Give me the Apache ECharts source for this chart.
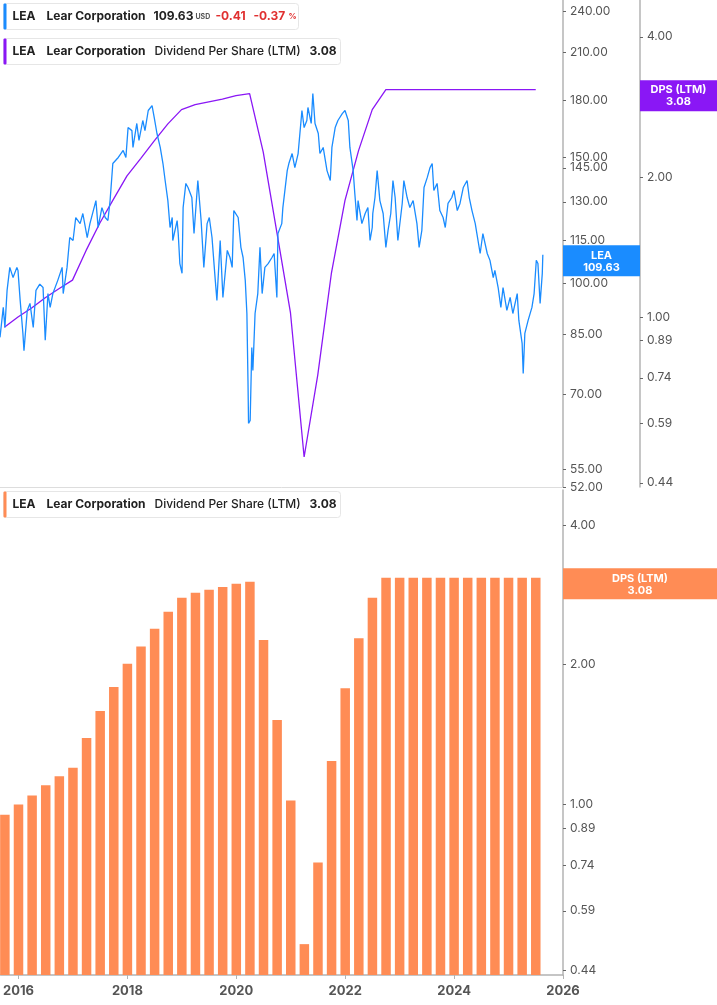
<!DOCTYPE html>
<html>
<head>
<meta charset="utf-8">
<script src="https://cdn.jsdelivr.net/npm/echarts@6/dist/echarts.min.js"></script>
<style>
  html, body { margin: 0; padding: 0; background: #fff; }
  #chart { width: 717px; height: 1005px; }
</style>
</head>
<body>
<div id="chart"></div>
<script>
// LEA daily-ish close: [decimal year, price]
let priceData = [
  [2015.67, 84.1], [2015.73, 92.6], [2015.76, 86.8], [2015.80, 97.8], [2015.85, 105.3], [2015.91, 101.9],
  [2015.98, 105.3], [2016.00, 104.3], [2016.04, 94.7], [2016.09, 85.2], [2016.11, 80.6], [2016.17, 91.7],
  [2016.22, 93.8], [2016.28, 86.8], [2016.33, 97.8], [2016.40, 99.8], [2016.46, 98.7], [2016.50, 83.3],
  [2016.55, 96.8], [2016.59, 92.6], [2016.64, 96.8], [2016.73, 101.0], [2016.81, 105.3], [2016.83, 96.8],
  [2016.90, 105.3], [2016.95, 115.9], [2017.01, 114.8], [2017.06, 123.6], [2017.14, 121.2], [2017.19, 125.2],
  [2017.27, 115.9], [2017.32, 121.2], [2017.43, 130.5], [2017.47, 119.7], [2017.54, 127.6], [2017.60, 123.6],
  [2017.65, 122.4], [2017.69, 130.5], [2017.74, 147.0], [2017.84, 149.9], [2017.93, 153.3], [2017.98, 149.9],
  [2018.02, 165.0], [2018.09, 163.4], [2018.11, 154.8], [2018.18, 167.2], [2018.22, 158.3], [2018.29, 168.8],
  [2018.33, 163.4], [2018.39, 174.3], [2018.46, 177.1], [2018.50, 170.4], [2018.55, 161.9], [2018.61, 154.8],
  [2018.66, 147.0], [2018.70, 139.2], [2018.75, 130.5], [2018.79, 119.7], [2018.83, 123.6], [2018.84, 114.8],
  [2018.92, 122.4], [2018.94, 117.4], [2018.97, 106.6], [2019.01, 103.3], [2019.03, 127.6], [2019.08, 137.9],
  [2019.12, 136.1], [2019.19, 131.8], [2019.23, 117.4], [2019.30, 139.2], [2019.36, 122.4], [2019.41, 105.3],
  [2019.47, 121.2], [2019.51, 123.6], [2019.56, 115.9], [2019.62, 101.0], [2019.65, 94.7], [2019.71, 114.8],
  [2019.76, 95.6], [2019.84, 111.2], [2019.89, 108.7], [2019.93, 105.3], [2019.96, 126.4], [2020.04, 123.6],
  [2020.09, 112.3], [2020.13, 108.7], [2020.17, 101.0], [2020.20, 90.8], [2020.22, 73.2], [2020.23, 63.8],
  [2020.26, 64.4], [2020.29, 81.4], [2020.31, 75.6], [2020.35, 90.8], [2020.40, 96.8], [2020.44, 112.3],
  [2020.48, 96.8], [2020.53, 105.3], [2020.59, 106.6], [2020.66, 108.7], [2020.70, 110.1], [2020.75, 95.6],
  [2020.77, 117.4], [2020.84, 121.2], [2020.86, 127.6], [2020.94, 143.7], [2020.97, 147.0], [2021.03, 151.8],
  [2021.08, 145.1], [2021.14, 151.8], [2021.21, 174.3], [2021.25, 165.0], [2021.30, 168.8], [2021.32, 176.0],
  [2021.38, 167.2], [2021.41, 184.1], [2021.45, 167.2], [2021.51, 161.9], [2021.54, 151.8], [2021.60, 154.8],
  [2021.67, 143.7], [2021.73, 139.2], [2021.76, 154.8], [2021.82, 165.0], [2021.87, 168.8], [2021.95, 172.6],
  [2022.00, 174.3], [2022.06, 168.8], [2022.09, 154.8], [2022.15, 143.7], [2022.18, 133.5], [2022.22, 122.4],
  [2022.24, 130.5], [2022.31, 121.2], [2022.37, 125.2], [2022.42, 127.6], [2022.46, 114.8], [2022.50, 119.7],
  [2022.51, 125.2], [2022.55, 131.8], [2022.59, 143.7], [2022.64, 130.5], [2022.70, 125.2], [2022.75, 112.3],
  [2022.79, 118.6], [2022.84, 125.2], [2022.88, 139.2], [2022.92, 131.8], [2022.97, 114.8], [2023.05, 129.3],
  [2023.08, 139.2], [2023.14, 131.8], [2023.19, 127.6], [2023.25, 130.5], [2023.32, 121.2], [2023.36, 112.3],
  [2023.41, 118.6], [2023.45, 136.1], [2023.51, 140.6], [2023.56, 145.1], [2023.60, 147.0], [2023.63, 134.8],
  [2023.69, 137.9], [2023.74, 126.4], [2023.80, 123.6], [2023.84, 119.7], [2023.89, 129.3], [2023.96, 131.8],
  [2024.00, 134.8], [2024.06, 126.4], [2024.11, 129.3], [2024.17, 136.1], [2024.24, 139.2], [2024.28, 131.8],
  [2024.33, 126.4], [2024.39, 121.2], [2024.42, 117.4], [2024.48, 110.1], [2024.53, 117.4], [2024.61, 110.1],
  [2024.66, 107.7], [2024.72, 101.9], [2024.75, 104.3], [2024.81, 98.7], [2024.86, 92.6], [2024.90, 98.7],
  [2024.97, 91.7], [2025.03, 95.6], [2025.08, 90.8], [2025.16, 96.8], [2025.19, 88.8], [2025.25, 82.5],
  [2025.27, 74.9], [2025.30, 85.2], [2025.36, 88.8], [2025.43, 92.6], [2025.47, 96.8], [2025.51, 107.7],
  [2025.54, 106.6], [2025.58, 93.8], [2025.62, 103.3], [2025.63, 109.63]
];

// quarter ends (decimal year) and dividend per share, LTM
let quarters = [
  2015.75, 2016.00, 2016.25, 2016.50, 2016.75, 2017.00, 2017.25, 2017.50, 2017.75, 2018.00,
  2018.25, 2018.50, 2018.75, 2019.00, 2019.25, 2019.50, 2019.75, 2020.00, 2020.25, 2020.50,
  2020.75, 2021.00, 2021.25, 2021.50, 2021.75, 2022.00, 2022.25, 2022.50, 2022.75, 2023.00,
  2023.25, 2023.50, 2023.75, 2024.00, 2024.25, 2024.50, 2024.75, 2025.00, 2025.25, 2025.50
];
let dps = [
  0.95, 1.00, 1.045, 1.10, 1.15, 1.20, 1.39, 1.59, 1.79, 2.01,
  2.19, 2.39, 2.60, 2.79, 2.86, 2.90, 2.94, 2.99, 3.02, 2.26,
  1.52, 1.02, 0.50, 0.75, 1.24, 1.78, 2.28, 2.79, 3.08, 3.08,
  3.08, 3.08, 3.08, 3.08, 3.08, 3.08, 3.08, 3.08, 3.08, 3.08
];

let yearTicks = [2016, 2018, 2020, 2022, 2024, 2026];
let priceTicks = [240, 210, 180, 150, 145, 130, 115, 100, 85, 70, 55, 52];
let dpsTicks = [4, 3, 2, 1, 0.89, 0.74, 0.59, 0.44];

let lastPrice = 109.63;
let lastDps = 3.08;

let dpsSeries = quarters.map((q, i) => [q, dps[i]]);

let blue = "#1a8cff";
let purple = "#8a17f5";
let orange = "#ff8c55";
let axisGray = "#b3b3b3";
let labelGray = "#555";

let rightAxis = function (ticks, extra) {
  let ax = {
    type: "log",
    logBase: 10,
    position: "right",
    splitLine: { show: false },
    axisLine: { show: true, lineStyle: { color: axisGray, width: 1.5 } },
    axisTick: { show: true, customValues: ticks, length: 3, inside: false, lineStyle: { color: "#666" } },
    axisLabel: {
      customValues: ticks,
      color: labelGray,
      fontSize: 12,
      fontFamily: "Inter",
      margin: 7,
      formatter: (v) => Number(v).toFixed(2),
    },
  };
  return Object.assign(ax, extra);
};

// value box sitting on an axis, centred text
let pointer = function (val, name, color, boxW) {
  return {
    show: true,
    value: val,
    status: "show",
    triggerTooltip: false,
    lineStyle: { opacity: 0 },
    label: {
      show: true,
      formatter: () => "{a|" + name + "}\n{a|" + val.toFixed(2) + "}",
      backgroundColor: color,
      borderRadius: 0,
      padding: [4, 0, 3, 0],
      margin: 0,
      rich: {
        a: {
          width: boxW, align: "center", color: "#fff", fontWeight: "bold",
          fontSize: 11, fontFamily: "Inter", lineHeight: 12,
        },
      },
    },
  };
};

let chart = echarts.init(document.getElementById("chart"));

let legendBox = function (top, width, color, parts) {
  return {
    type: "group",
    left: 3,
    top: top,
    children: [
      { type: "rect", shape: { x: 0, y: 0, width: width, height: 26, r: 3 },
        style: { fill: "#fff", stroke: "#e6e6e6", lineWidth: 1 } },
      { type: "rect", shape: { x: 0, y: 0, width: 3, height: 26, r: 1 }, style: { fill: color } },
    ].concat(parts.map((p) => ({
      type: "text",
      x: p[0],
      y: 13,
      style: {
        text: p[1],
        fill: p[2] || "#222",
        font: (p[3] || "bold 12px") + " Inter",
        verticalAlign: "middle",
      },
    }))),
  };
};

let option = {
  animation: false,
  backgroundColor: "#fff",
  grid: [
    { left: 0, right: 154, top: 0, height: 487 },
    { left: 0, right: 154, top: 490, bottom: 30 },
  ],
  xAxis: [
    {
      type: "value", gridIndex: 0, min: 2015.67, max: 2026,
      axisLine: { show: true, onZero: false, lineStyle: { color: "#ddd" } },
      axisTick: { show: false }, axisLabel: { show: false }, splitLine: { show: false },
    },
    {
      type: "value", gridIndex: 1, min: 2015.67, max: 2026,
      axisLine: { show: true, onZero: false, lineStyle: { color: axisGray, width: 1.5 } },
      axisTick: { show: true, customValues: yearTicks, length: 4, lineStyle: { color: axisGray } },
      axisLabel: {
        customValues: yearTicks, color: labelGray, fontWeight: "bold", fontSize: 13,
        fontFamily: "Inter", margin: 10, formatter: (v) => String(Math.round(v)),
      },
      splitLine: { show: false },
    },
  ],
  yAxis: [
    rightAxis(priceTicks, {
      gridIndex: 0, min: 52, max: 248.6,
      axisPointer: pointer(lastPrice, "LEA", blue, 77),
    }),
    rightAxis(dpsTicks, {
      gridIndex: 0, min: 0.431, max: 4.8, offset: 77,
      axisPointer: pointer(lastDps, "DPS (LTM)", purple, 77),
    }),
    rightAxis(dpsTicks, {
      gridIndex: 1, min: 0.429, max: 4.76,
      axisPointer: pointer(lastDps, "DPS (LTM)", orange, 154),
    }),
  ],
  series: [
    {
      name: "LEA", type: "line", xAxisIndex: 0, yAxisIndex: 0,
      data: priceData, showSymbol: false, z: 3,
      lineStyle: { color: blue, width: 1.3 },
    },
    {
      name: "DPS line", type: "line", xAxisIndex: 0, yAxisIndex: 1,
      data: dpsSeries, showSymbol: false, z: 2,
      lineStyle: { color: purple, width: 1.3 },
    },
    {
      name: "DPS bars", type: "custom", xAxisIndex: 1, yAxisIndex: 2,
      data: dpsSeries,
      encode: { x: 0, y: 1 },
      renderItem: function (params, api) {
        let top = api.coord([api.value(0), api.value(1)]);
        let base = api.coord([api.value(0), 0.429]);
        let w = 9.5;
        return {
          type: "rect",
          shape: { x: top[0] - w / 2, y: top[1], width: w, height: base[1] - top[1] },
          style: { fill: orange },
        };
      },
    },
  ],
  graphic: [
    legendBox(3, 295, blue, [
      [9, "LEA"], [43, "Lear Corporation"], [150, "109.63"],
      [192, "USD", "#555", "bold 7px"], [212, "-0.41", "#e03030"], [250, "-0.37", "#e03030"],
      [285, "%", "#e03030", "bold 8px"],
    ]),
    legendBox(38, 337, purple, [
      [9, "LEA"], [43, "Lear Corporation"], [151, "Dividend Per Share (LTM)", "#222", "500 12px"], [306, "3.08"],
    ]),
    legendBox(491, 337, orange, [
      [9, "LEA"], [43, "Lear Corporation"], [151, "Dividend Per Share (LTM)", "#222", "500 12px"], [306, "3.08"],
    ]),
  ],
};

option && chart.setOption(option);
</script>
</body>
</html>
